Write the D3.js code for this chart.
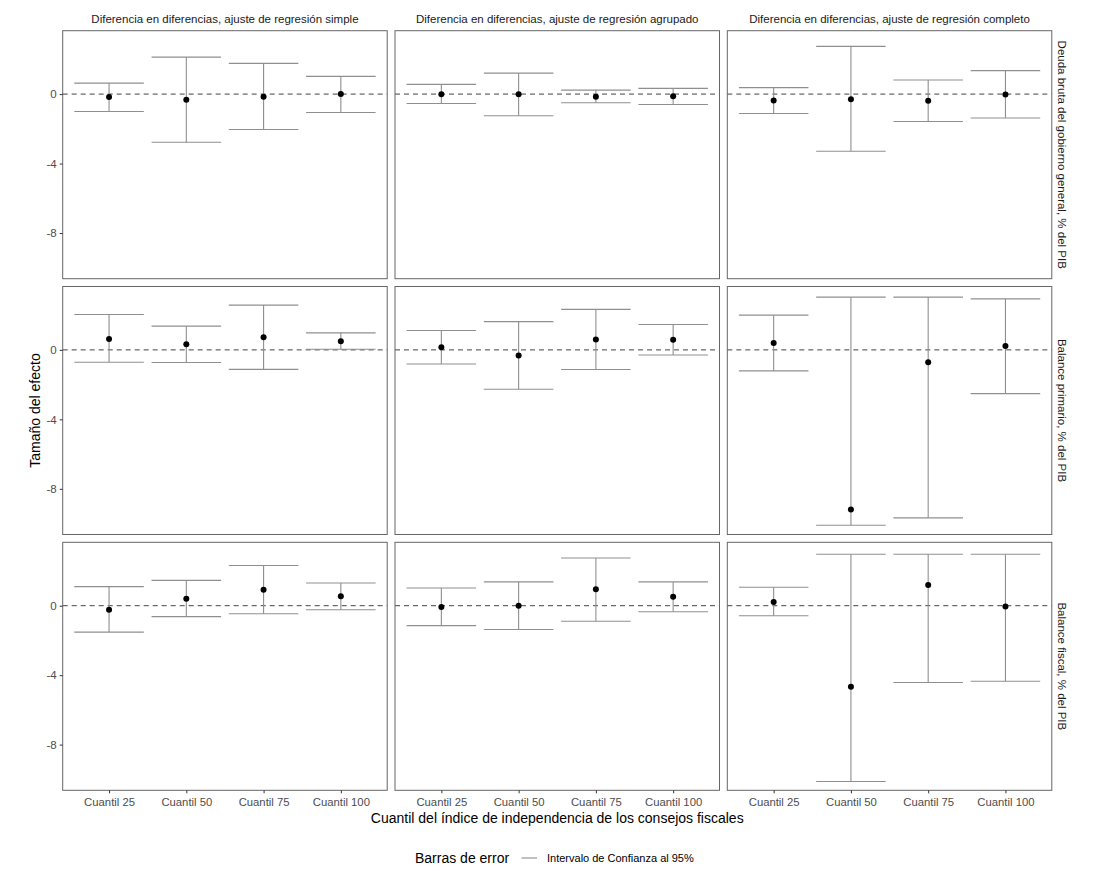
<!DOCTYPE html>
<html><head><meta charset="utf-8">
<script src="https://cdn.jsdelivr.net/npm/d3@7"></script>
<style>body{margin:0;background:#fff;} text{font-family:"Liberation Sans",Arial,sans-serif;}</style>
</head><body><svg id="c" width="1107" height="871"></svg>
<script>
const models = ["Diferencia en diferencias, ajuste de regresión simple",
                "Diferencia en diferencias, ajuste de regresión agrupado",
                "Diferencia en diferencias, ajuste de regresión completo"];
const outcomes = ["Deuda bruta del gobierno general, % del PIB",
                  "Balance primario, % del PIB",
                  "Balance fiscal, % del PIB"];
const categories = ["Cuantil 25","Cuantil 50","Cuantil 75","Cuantil 100"];
const yTicks = [0,-4,-8];

// per outcome: rows = model (simple, agrupado, completo), columns = categories
const deudaEstimate = [[-0.17,-0.33,-0.15,0.0],[-0.01,-0.01,-0.15,-0.13],[-0.37,-0.29,-0.38,-0.02]];
const deudaLower    = [[-1.0,-2.77,-2.04,-1.06],[-0.54,-1.25,-0.5,-0.6],[-1.12,-3.29,-1.58,-1.38]];
const deudaUpper    = [[0.63,2.13,1.77,1.02],[0.56,1.21,0.23,0.33],[0.37,2.75,0.81,1.35]];

const primarioEstimate = [[0.63,0.33,0.73,0.5],[0.15,-0.33,0.6,0.58],[0.4,-9.19,-0.71,0.23]];
const primarioLower    = [[-0.71,-0.73,-1.12,0.04],[-0.81,-2.27,-1.13,-0.29],[-1.21,-10.1,-9.67,-2.52]];
const primarioUpper    = [[2.04,1.37,2.58,0.98],[1.12,1.63,2.33,1.46],[2.0,3.04,3.04,2.94]];

const fiscalEstimate = [[-0.23,0.4,0.92,0.54],[-0.08,0.0,0.94,0.52],[0.21,-4.67,1.19,-0.04]];
const fiscalLower    = [[-1.52,-0.63,-0.46,-0.23],[-1.15,-1.37,-0.9,-0.35],[-0.58,-10.12,-4.42,-4.35]];
const fiscalUpper    = [[1.1,1.46,2.31,1.31],[1.02,1.37,2.75,1.37],[1.06,2.96,2.96,2.96]];

const estimates = [deudaEstimate, primarioEstimate, fiscalEstimate];
const lowers = [deudaLower, primarioLower, fiscalLower];
const uppers = [deudaUpper, primarioUpper, fiscalUpper];

const svg = d3.select("#c");
const panelLeft = 62.7, panelW = 324.5, gapX = 7.8;
const panelTop = 30.7, panelH = 248, gapY = 7.8;
const ebColor = "#8f8f8f";

// ggplot discrete expansion: 0.6 units each side
const unit = panelW / (categories.length - 1 + 1.2);
const xs = d3.scalePoint().domain(categories).range([0.6*unit, panelW - 0.6*unit]);
const y = d3.scaleLinear().domain([-10.63, 3.65]).range([panelH, 0]);

outcomes.forEach((outc, r) => {
  models.forEach((mod, c) => {
    const g = svg.append("g").attr("transform", `translate(${panelLeft + c*(panelW+gapX)},${panelTop + r*(panelH+gapY)})`);
    g.append("rect").attr("width", panelW).attr("height", panelH).attr("fill","#fff");
    g.append("line").attr("x1",0).attr("x2",panelW).attr("y1",y(0)).attr("y2",y(0))
      .attr("stroke","#444").attr("stroke-width",1).attr("stroke-dasharray","5,4");
    const data = categories.map((cat,i)=>({cat, est: estimates[r][c][i], lo: lowers[r][c][i], hi: uppers[r][c][i]}));
    const hw = 0.45*unit;
    const eb = g.selectAll(".eb").data(data).enter().append("g");
    eb.append("line").attr("x1",d=>xs(d.cat)).attr("x2",d=>xs(d.cat)).attr("y1",d=>y(d.lo)).attr("y2",d=>y(d.hi))
      .attr("stroke",ebColor).attr("stroke-width",1.1);
    eb.append("line").attr("x1",d=>xs(d.cat)-hw).attr("x2",d=>xs(d.cat)+hw).attr("y1",d=>y(d.lo)).attr("y2",d=>y(d.lo))
      .attr("stroke",ebColor).attr("stroke-width",1.1);
    eb.append("line").attr("x1",d=>xs(d.cat)-hw).attr("x2",d=>xs(d.cat)+hw).attr("y1",d=>y(d.hi)).attr("y2",d=>y(d.hi))
      .attr("stroke",ebColor).attr("stroke-width",1.1);
    g.selectAll(".pt").data(data).enter().append("circle")
      .attr("cx",d=>xs(d.cat)).attr("cy",d=>y(d.est)).attr("r",3).attr("fill","#000");
    g.append("rect").attr("width", panelW).attr("height", panelH).attr("fill","none").attr("stroke","#666").attr("stroke-width",1);

    if (c === 0) {
      const ax = g.append("g").call(d3.axisLeft(y).tickValues(yTicks).tickSize(3).tickPadding(3).tickFormat(d => String(d)));
      ax.select(".domain").remove();
      ax.selectAll("line").attr("stroke","#333");
      ax.selectAll("text").attr("fill","#4d4d4d").style("font-size","11.5px").style("font-family","Liberation Sans, Arial, sans-serif");
    }
    if (r === outcomes.length - 1) {
      const ax = g.append("g").attr("transform",`translate(0,${panelH})`)
        .call(d3.axisBottom(xs).tickSize(3).tickPadding(5));
      ax.select(".domain").remove();
      ax.selectAll("line").attr("stroke","#333");
      ax.selectAll("text").attr("fill","#4d4d4d").style("font-size","11.3px").style("font-family","Liberation Sans, Arial, sans-serif");
    }
    if (r === 0) {
      g.append("text").attr("x", panelW/2).attr("y", -8).attr("text-anchor","middle")
        .style("font-size","11.5px").attr("fill","#1a1a1a").text(mod);
    }
    if (c === models.length - 1) {
      g.append("text").attr("transform",`translate(${panelW+6.5},${panelH/2}) rotate(90)`)
        .attr("text-anchor","middle").style("font-size","11.5px").attr("fill","#1a1a1a").text(outc);
    }
  });
});

const totalW = 3*panelW + 2*gapX;
const totalH = 3*panelH + 2*gapY;
svg.append("text").attr("transform",`translate(40,${panelTop + totalH/2}) rotate(-90)`)
  .attr("text-anchor","middle").style("font-size","14px").attr("fill","#000").text("Tamaño del efecto");
svg.append("text").attr("x", panelLeft + totalW/2).attr("y", 823).attr("text-anchor","middle")
  .style("font-size","14px").attr("fill","#000").text("Cuantil del índice de independencia de los consejos fiscales");

const leg = svg.append("g");
leg.append("text").attr("x",415).attr("y",863).style("font-size","14px").attr("fill","#000").text("Barras de error");
leg.append("line").attr("x1",521.5).attr("x2",537).attr("y1",858).attr("y2",858).attr("stroke",ebColor).attr("stroke-width",1.1);
leg.append("text").attr("x",547).attr("y",862).style("font-size","11px").attr("fill","#000").text("Intervalo de Confianza al 95%");
</script></body></html>
